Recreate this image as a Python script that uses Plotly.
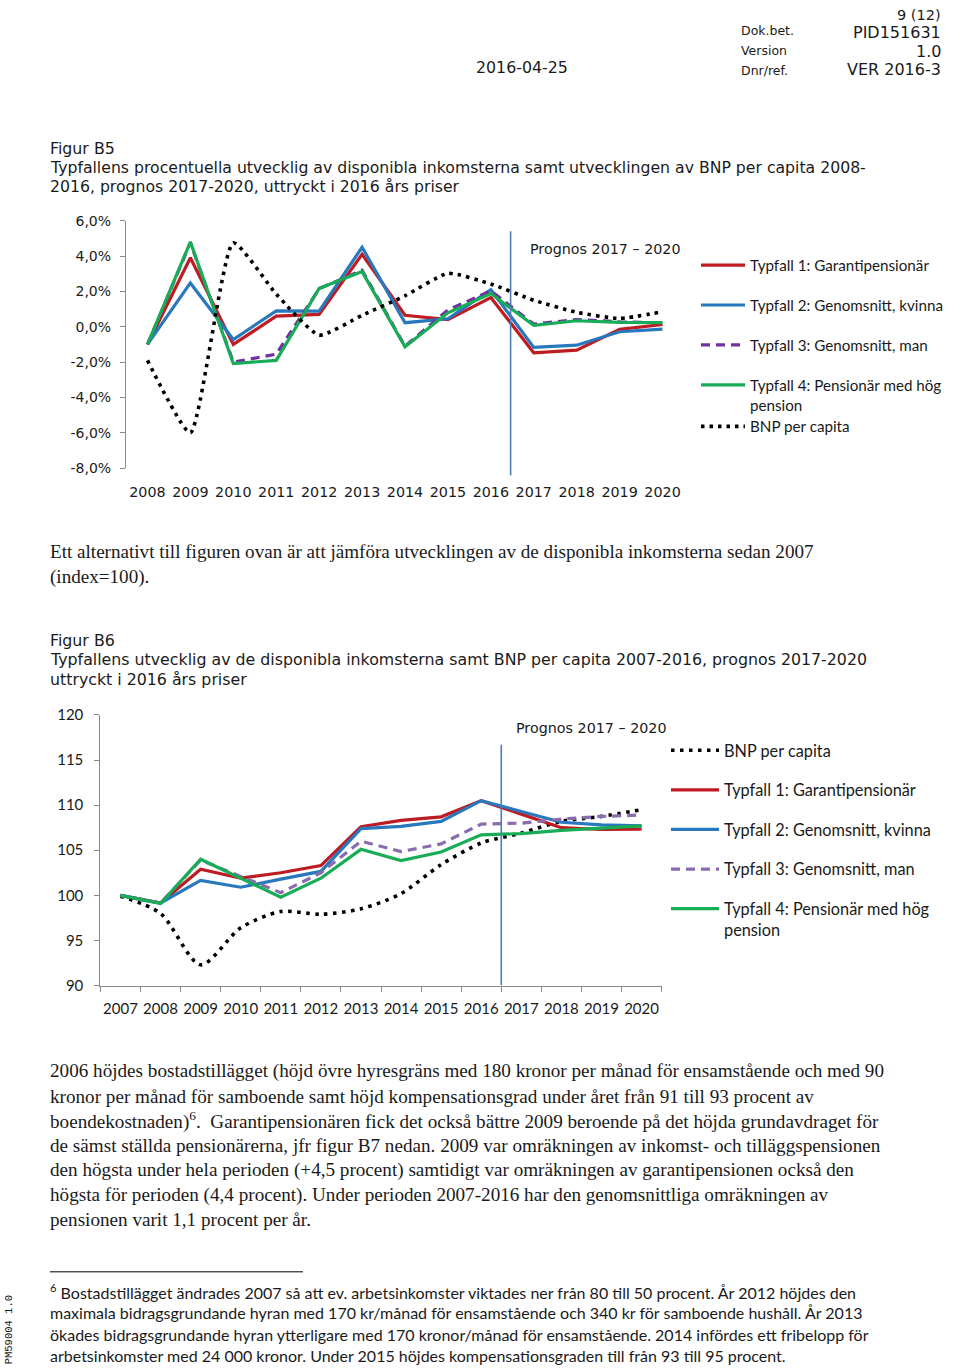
import plotly.graph_objects as go

# ---------------- data ----------------
years_b5 = [str(y) for y in range(2008, 2021)]
b5_typfall1 = [-1.0, 3.9, -1.0, 0.6, 0.7, 4.1, 0.65, 0.4, 1.65, -1.47, -1.32, -0.15, 0.13]
b5_typfall2 = [-1.0, 2.48, -0.72, 0.9, 0.88, 4.5, 0.23, 0.45, 2.1, -1.17, -1.04, -0.28, -0.13]
b5_typfall3 = [-1.0, 4.75, -2.0, -1.55, 2.15, 3.2, -1.1, 0.95, 2.03, 0.15, 0.41, 0.28, 0.22]
b5_typfall4 = [-1.0, 4.8, -2.08, -1.9, 2.17, 3.12, -1.13, 0.79, 1.88, 0.08, 0.34, 0.25, 0.24]
b5_bnp = [-1.9, -6.0, 4.75, 1.85, -0.47, 0.65, 1.75, 3.02, 2.42, 1.5, 0.82, 0.47, 0.85]
b5_yticks = [-8, -6, -4, -2, 0, 2, 4, 6]
b5_yticktext = [("%.1f%%" % v).replace(".", ",") for v in b5_yticks]
b5_forecast_x = 8.46          # category position of the forecast divider
b5_forecast_span = (-8.4, 5.4)

years_b6 = [str(y) for y in range(2007, 2021)]
b6_typfall1 = [100, 99.15, 102.9, 101.9, 102.5, 103.3, 107.6, 108.3, 108.7, 110.5, 109.0, 107.5, 107.3, 107.35]
b6_typfall2 = [100, 99.15, 101.65, 100.9, 101.8, 102.65, 107.4, 107.65, 108.2, 110.5, 109.3, 108.1, 107.8, 107.7]
b6_typfall3 = [100, 99.15, 103.9, 102.1, 100.3, 102.5, 106.0, 104.85, 105.7, 107.9, 108.0, 108.45, 108.75, 108.9]
b6_typfall4 = [100, 99.1, 104.0, 101.9, 99.8, 101.9, 105.1, 103.85, 104.8, 106.7, 106.85, 107.2, 107.45, 107.7]
b6_bnp = [99.9, 98.0, 92.3, 96.4, 98.2, 97.9, 98.5, 100.2, 103.4, 105.8, 106.9, 108.2, 108.75, 109.5]
b6_yticks = [90, 95, 100, 105, 110, 115, 120]
b6_forecast_x = 9.5
b6_forecast_span = (90, 116.7)

names = ["Typfall 1: Garantipensionär", "Typfall 2: Genomsnitt, kvinna",
         "Typfall 3: Genomsnitt, man", "Typfall 4: Pensionär med hög<br>pension",
         "BNP per capita"]

# ---------------- page geometry ----------------
W, H = 960, 1370
# the captured page shows a small vertical offset/scale; positions below are
# given in final-picture pixels and mapped back to figure pixels here
V_OFF, V_SC = 10.0, 0.987
def px(x): return x / W
def fy(y): return (y - V_OFF) / V_SC
def py(y): return 1 - fy(y) / H

RED, BLUE, PURPLE1, PURPLE2, GREEN = "#BE1B23", "#2878BE", "#7030A0", "#8A6BAE", "#17AC55"
AXIS = "#8A8A8A"
DIV = "#4F7BB8"
SANS = "DejaVu Sans"
CAL = "Lato"
SERIF = "Liberation Serif"
LW = 3.2
LEGFONT1 = dict(family=CAL, size=15.2, color="#1a1a1a")
LEGFONT2 = dict(family=CAL, size=16.3, color="#1a1a1a")

fig = go.Figure()

# chart B5
b5_series = [(b5_typfall1, RED, "solid"), (b5_typfall2, BLUE, "solid"),
             (b5_typfall3, PURPLE1, "dash"), (b5_typfall4, GREEN, "solid")]
for i, (vals, col, dash) in enumerate(b5_series):
    fig.add_trace(go.Scatter(x=years_b5, y=vals, name=names[i], mode="lines",
                             line=dict(color=col, width=LW, dash=("9px,6px" if dash == "dash" else "solid")),
                             xaxis="x", yaxis="y", legend="legend", legendgroup="b5_%d" % i,
                             hoverinfo="skip"))
fig.add_trace(go.Scatter(x=years_b5, y=b5_bnp, name=names[4], mode="lines",
                         line=dict(color="black", width=3.6, dash="3.5px,5px", shape="spline", smoothing=0.5),
                         xaxis="x", yaxis="y", legend="legend3", hoverinfo="skip"))

# chart B6
fig.add_trace(go.Scatter(x=years_b6, y=b6_bnp, name=names[4], mode="lines",
                         line=dict(color="black", width=3.6, dash="3.5px,5.5px", shape="spline", smoothing=0.8),
                         xaxis="x2", yaxis="y2", legend="legend2", legendgroup="b6_bnp",
                         hoverinfo="skip"))
b6_series = [(b6_typfall1, RED, "solid"), (b6_typfall2, BLUE, "solid"),
             (b6_typfall3, PURPLE2, "dash"), (b6_typfall4, GREEN, "solid")]
for i, (vals, col, dash) in enumerate(b6_series):
    fig.add_trace(go.Scatter(x=years_b6, y=vals, name=names[i], mode="lines",
                             line=dict(color=col, width=LW, dash=("9px,6px" if dash == "dash" else "solid")),
                             xaxis="x2", yaxis="y2", legend="legend2", legendgroup="b6_%d" % i,
                             hoverinfo="skip"))

# axes geometry (picture pixels)
b5_x0, b5_x1, b5_top, b5_bot = 126, 684, 220.7, 468.3
b6_x0, b6_x1, b6_top, b6_bot = 100.4, 661.6, 715.0, 985.7

def b5_paper(v):
    lo, hi = py(b5_bot), py(b5_top)
    return lo + (v - b5_yticks[0]) / (b5_yticks[-1] - b5_yticks[0]) * (hi - lo)

zero_paper = b5_paper(0)

fig.update_layout(
    width=W, height=H, autosize=False,
    margin=dict(l=0, r=0, t=0, b=0),
    paper_bgcolor="white", plot_bgcolor="white",
    font=dict(family=SANS, color="#1a1a1a"),
    showlegend=True,
    xaxis=dict(domain=[px(b5_x0), px(b5_x1)], anchor="y", type="category",
               categoryorder="array", categoryarray=years_b5, range=[-0.5, 12.5],
               showline=False, ticks="", showgrid=False, zeroline=False, tickangle=0,
               tickfont=dict(family=SANS, size=14.3, color="#1a1a1a"), ticklabelstandoff=13),
    xaxis3=dict(domain=[px(b5_x0), px(b5_x1)], overlaying="x", anchor="free", position=zero_paper,
                type="linear", range=[-0.5, 12.5], tick0=-0.5, dtick=1, ticks="outside",
                ticklen=5, tickcolor=AXIS, tickwidth=1, showticklabels=False,
                showline=True, linecolor=AXIS, linewidth=1.6, showgrid=False, zeroline=False),
    yaxis=dict(domain=[py(b5_bot), py(b5_top)], anchor="x", range=[-8, 6],
               tickvals=b5_yticks, ticktext=b5_yticktext,
               showline=True, linecolor=AXIS, linewidth=1.2, ticks="outside", ticklen=5,
               tickcolor=AXIS, showgrid=False, zeroline=False, ticklabelstandoff=6,
               tickfont=dict(family=SANS, size=14, color="#1a1a1a")),
    xaxis2=dict(domain=[px(b6_x0), px(b6_x1)], anchor="y2", type="category",
                categoryorder="array", categoryarray=years_b6, range=[-0.5, 13.5],
                showline=True, linecolor=AXIS, linewidth=1.2, ticks="outside", ticklen=5,
                tickcolor=AXIS, tickson="boundaries", showgrid=False, zeroline=False,
                tickangle=0,
                tickfont=dict(family=CAL, size=15, color="#1a1a1a"), ticklabelstandoff=9),
    yaxis2=dict(domain=[py(b6_bot), py(b6_top)], anchor="x2", range=[90, 120],
                tickvals=b6_yticks, showline=True, linecolor=AXIS, linewidth=1.2,
                ticks="outside", ticklen=5, tickcolor=AXIS, showgrid=False, zeroline=False,
                ticklabelstandoff=8, tickfont=dict(family=CAL, size=15, color="#1a1a1a")),
    legend=dict(x=px(696), y=py(248.7), xanchor="left", yanchor="top", traceorder="grouped",
                tracegroupgap=17.2, valign="top", itemwidth=44, bgcolor="rgba(0,0,0,0)",
                font=LEGFONT1),
    legend3=dict(x=px(696), y=py(410.1), xanchor="left", yanchor="top", valign="top",
                 itemwidth=44, bgcolor="rgba(0,0,0,0)", font=LEGFONT1),
    legend2=dict(x=px(666), y=py(733.3), xanchor="left", yanchor="top", traceorder="grouped",
                 tracegroupgap=15.4, valign="top", itemwidth=48, bgcolor="rgba(0,0,0,0)",
                 font=LEGFONT2),
)

# forecast dividers
fig.add_shape(type="line", xref="x", yref="paper", x0=b5_forecast_x, x1=b5_forecast_x,
              y0=b5_paper(b5_forecast_span[0]), y1=b5_paper(b5_forecast_span[1]),
              line=dict(color=DIV, width=1.6))
fig.add_shape(type="line", xref="x2", yref="y2", x0=b6_forecast_x, x1=b6_forecast_x,
              y0=b6_forecast_span[0], y1=b6_forecast_span[1], line=dict(color=DIV, width=1.6))

# footnote separator
fig.add_shape(type="line", xref="paper", yref="paper", x0=px(50), x1=px(303),
              y0=py(1272), y1=py(1272), line=dict(color="black", width=1))

def txt(s, x, y, size, family=SANS, anchor="left", angle=0):
    fig.add_annotation(text=s, x=px(x), y=py(y), xref="paper", yref="paper",
                       xanchor=anchor, yanchor="middle", showarrow=False, textangle=angle,
                       borderpad=0, font=dict(family=family, size=size, color="#1a1a1a"))

# header
txt("9 (12)", 942, 15.0, 14.5, anchor="right")
txt("Dok.bet.", 740, 31, 12.5)
txt("PID151631", 942, 32.6, 16, anchor="right")
txt("Version", 740, 51, 12.5)
txt("1.0", 942, 51.3, 16, anchor="right")
txt("2016-04-25", 475, 68, 15.8)
txt("Dnr/ref.", 740, 71, 12.5)
txt("VER 2016-3", 942, 70.0, 16, anchor="right")

# figure B5 title
txt("Figur B5", 49, 149, 15.8)
txt("Typfallens procentuella utvecklig av disponibla inkomsterna samt utvecklingen av BNP per capita 2008-", 49, 168, 15.7)
txt("2016, prognos 2017-2020, uttryckt i 2016 års priser", 49, 187, 15.7)
txt("Prognos 2017 \u2013 2020", 529, 249, 14.3)

# between figures
txt("Ett alternativt till figuren ovan är att jämföra utvecklingen av de disponibla inkomsterna sedan 2007", 49, 552, 19.1, SERIF)
txt("(index=100).", 49, 577, 19.1, SERIF)
txt("Figur B6", 49, 641, 15.8)
txt("Typfallens utvecklig av de disponibla inkomsterna samt BNP per capita 2007-2016, prognos 2017-2020", 49, 660, 15.8)
txt("uttryckt i 2016 års priser", 49, 680, 15.8)
txt("Prognos 2017 \u2013 2020", 515, 728, 14.3)

# body paragraph
body = [
    "2006 höjdes bostadstillägget (höjd övre hyresgräns med 180 kronor per månad för ensamstående och med 90",
    "kronor per månad för samboende samt höjd kompensationsgrad under året från 91 till 93 procent av",
    "boendekostnaden)<sup>6</sup>.\u00a0 Garantipensionären fick det också bättre 2009 beroende på det höjda grundavdraget för",
    "de sämst ställda pensionärerna, jfr figur B7 nedan. 2009 var omräkningen av inkomst- och tilläggspensionen",
    "den högsta under hela perioden (+4,5 procent) samtidigt var omräkningen av garantipensionen också den",
    "högsta för perioden (4,4 procent). Under perioden 2007-2016 har den genomsnittliga omräkningen av",
    "pensionen varit 1,1 procent per år.",
]
for k, line in enumerate(body):
    txt(line, 49, 1071.5 + k * 24.7, 19.15, SERIF)

# footnote
foot = [
    "<sup>6</sup> Bostadstillägget ändrades 2007 så att ev. arbetsinkomster viktades ner från 80 till 50 procent. År 2012 höjdes den",
    "maximala bidragsgrundande hyran med 170 kr/månad för ensamstående och 340 kr för samboende hushåll. År 2013",
    "ökades bidragsgrundande hyran ytterligare med 170 kronor/månad för ensamstående. 2014 infördes ett fribelopp för",
    "arbetsinkomster med 24 000 kronor. Under 2015 höjdes kompensationsgraden till från 93 till 95 procent.",
]
for k, line in enumerate(foot):
    txt(line, 49, 1292 + k * 21.1, 16, CAL)

txt("PM59004 1.0", 8.5, 1330, 10.5, "Liberation Mono", anchor="center", angle=-90)

page_fix = (
    "document.documentElement.style.margin='0px';"
    "document.documentElement.style.overflow='hidden';"
    "document.body.style.margin='0px';document.body.style.padding='0px';"
    "document.body.style.overflow='hidden';"
    "var gd=document.querySelector('.plotly-graph-div');"
    "if(gd){gd.style.position='absolute';gd.style.left='0px';gd.style.top='0px';}"
)
fig.write_html("out.html", config={"displayModeBar": False}, post_script=page_fix)
